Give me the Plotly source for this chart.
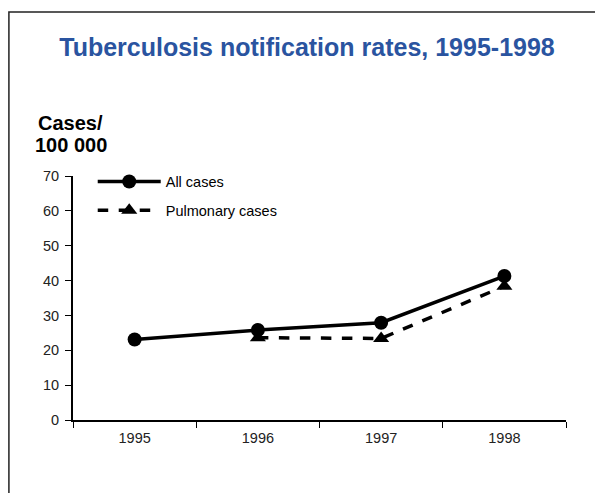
import plotly.graph_objects as go

# data
years = ['1995', '1996', '1997', '1998']
all_cases = [23.1, 25.8, 27.9, 41.3]
pulmonary_years = ['1996', '1997', '1998']
pulmonary_cases = [23.6, 23.4, 38.4]
y_ticks = [0, 10, 20, 30, 40, 50, 60, 70]

fig = go.Figure()

# all cases line
fig.add_trace(go.Scatter(
    x=years, y=all_cases, name='All cases', legendgroup='a',
    mode='lines+markers',
    line=dict(color='black', width=3.5),
    marker=dict(symbol='circle', size=14, color='black'),
))

# pulmonary cases line
fig.add_trace(go.Scatter(
    x=pulmonary_years, y=pulmonary_cases, name='Pulmonary cases', legendgroup='b',
    mode='lines+markers',
    line=dict(color='black', width=3.5, dash='dash'),
    marker=dict(symbol='triangle-up', size=14, color='black'),
))

# border box around the figure
fig.add_shape(type='rect', xref='paper', yref='paper',
              x0=-0.13, x1=1.2, y0=-0.5, y1=1.672,
              line=dict(color='#222222', width=1.5), layer='below')

# y axis heading, two lines set close together
fig.add_annotation(text='<b>Cases/</b>', xref='paper', yref='paper',
                   x=-0.005, y=1.216, xanchor='center', yanchor='middle',
                   showarrow=False, font=dict(size=20, color='black'))
fig.add_annotation(text='<b>100 000</b>', xref='paper', yref='paper',
                   x=-0.005, y=1.126, xanchor='center', yanchor='middle',
                   showarrow=False, font=dict(size=20, color='black'))

fig.update_layout(
    width=595, height=493,
    margin=dict(l=73, r=29, t=176, b=73),
    paper_bgcolor='white',
    plot_bgcolor='white',
    font=dict(family='Liberation Sans, Arial, sans-serif', color='#222222', size=14.5),
    title=dict(text='<b>Tuberculosis notification rates, 1995-1998</b>',
               x=307 / 595, xanchor='center', y=1 - 47 / 493, yanchor='middle',
               font=dict(size=25, color='#2a54a0')),
    legend=dict(x=0.04, y=1.043, xanchor='left', yanchor='top',
                bgcolor='rgba(0,0,0,0)', font=dict(size=14.5, color='black'),
                traceorder='grouped', tracegroupgap=7, itemwidth=63),
    xaxis=dict(
        type='category', categoryorder='array', categoryarray=years,
        range=[-0.5, 3.5],
        showline=True, linecolor='black', linewidth=2,
        ticks='outside', tickson='boundaries', ticklen=6, tickcolor='black',
        ticklabelstandoff=4,
        showgrid=False, zeroline=False,
    ),
    yaxis=dict(
        range=[0, 70], tickvals=y_ticks,
        showline=True, linecolor='black', linewidth=2,
        ticks='outside', ticklen=6, tickcolor='black',
        ticklabelstandoff=3,
        showgrid=False, zeroline=False,
    ),
)

fig.write_html('out.html', config={'displayModeBar': False},
               post_script="document.body.style.margin='0';")
